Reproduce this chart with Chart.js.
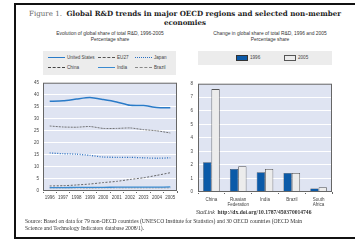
<!DOCTYPE html>
<html>
<head>
<meta charset="utf-8">
<script src="https://cdn.jsdelivr.net/npm/chart.js@4"></script>
<style>
    body { margin: 0; background: #fff; width: 355px; height: 240px; overflow: hidden; position: relative; font-family: "Liberation Sans", Arial, sans-serif; }
    .frame { position: absolute; left: 14px; top: 3px; width: 350px; height: 232px; border-left: 2px solid #111; border-top: 2px solid #111; border-bottom: 2px solid #111; }
    .serif { font-family: "Liberation Serif", "DejaVu Serif", serif; }
    .title { position: absolute; left: 15px; width: 340px; text-align: center; font-family: "DejaVu Serif", serif; font-size: 7.1px; line-height: 8.5px; top: 10px; color: #222; }
    .title .fig { color: #666; font-weight: normal; }
    .sub { position: absolute; text-align: center; font-size: 4.9px; line-height: 6px; color: #333; }
    .legend { position: absolute; background: #ececec; font-size: 4.6px; color: #444; }
    .item { position: absolute; white-space: nowrap; }
    .sample { display: inline-block; width: 17px; height: 0; vertical-align: middle; margin-right: 2px; }
    .swatch { display: inline-block; width: 10px; height: 3.5px; vertical-align: middle; margin-right: 2px; }
    canvas { position: absolute; }
    .note { position: absolute; font-size: 5.6px; color: #333; white-space: nowrap; }
</style>
</head>
<body>
<div class="frame"></div>
<div class="title"><span class="fig">Figure 1.</span>&nbsp;&nbsp;<b>Global R&amp;D trends in major OECD regions and selected non-member<br>economies</b></div>

<div class="sub" style="left:25px;width:170px;top:31px;">Evolution of global share of total R&amp;D, 1996-2005<br>Percentage share</div>
<div class="sub" style="left:185px;width:170px;top:31px;">Change in global share of total R&amp;D, 1996 and 2005<br>Percentage share</div>

<div class="legend" style="left:43px;top:51px;width:133px;height:24px;">
    <div class="item" style="left:5px;top:4px;"><span class="sample" style="border-top:1.5px solid #2a7bc8"></span>United States</div>
    <div class="item" style="left:55px;top:4px;"><span class="sample" style="border-top:1px dashed #555"></span>EU27</div>
    <div class="item" style="left:92px;top:4px;"><span class="sample" style="border-top:1.5px dotted #2a6fc0"></span>Japan</div>
    <div class="item" style="left:5px;top:14px;"><span class="sample" style="border-top:1px dashed #444"></span>China</div>
    <div class="item" style="left:55px;top:14px;"><span class="sample" style="border-top:1.5px solid #3a8ad0"></span>India</div>
    <div class="item" style="left:92px;top:14px;"><span class="sample" style="border-top:1px dashed #888"></span>Brazil</div>
</div>
<div class="legend" style="left:198px;top:51px;width:134px;height:14px;">
    <div class="item" style="left:38px;top:4px;"><span class="swatch" style="background:#0b5aa8;border:0.5px solid #333"></span>1996</div>
    <div class="item" style="left:86px;top:4px;"><span class="swatch" style="background:#ececec;border:0.5px solid #555"></span>2005</div>
</div>

<canvas id="lineChart" style="left:22px;top:76px;width:160px;height:126px;"></canvas>
<canvas id="barChart" style="left:185px;top:76px;width:150px;height:134px;"></canvas>

<div class="note serif" style="left:196px;top:209px;"><i>StatLink</i> &nbsp;<b>http://dx.doi.org/10.1787/450370014746</b></div>
<div class="note serif" style="left:25px;top:218px;line-height:7px;">Source: Based on data for 79 non-OECD countries (UNESCO Institute for Statistics) and 30 OECD countries (OECD Main<br>Science and Technology Indicators database 2008/1).</div>

<script>
// Left panel: share of global R&D, 1996-2005
const years = ['1996', '1997', '1998', '1999', '2000', '2001', '2002', '2003', '2004', '2005'];
const unitedStates = [37.3, 37.5, 38.2, 38.8, 38.0, 37.0, 35.6, 35.5, 34.7, 34.6];
const eu27 = [27.0, 26.6, 26.5, 26.8, 26.0, 26.0, 26.2, 25.5, 25.0, 24.1];
const japan = [15.8, 15.5, 15.3, 14.8, 14.1, 14.0, 14.0, 13.8, 13.6, 13.8];
const china = [2.1, 2.2, 2.5, 2.9, 3.5, 4.0, 4.8, 5.5, 6.5, 7.6];
const india = [1.4, 1.4, 1.5, 1.5, 1.5, 1.6, 1.6, 1.6, 1.6, 1.7];
const brazil = [1.3, 1.3, 1.3, 1.2, 1.3, 1.3, 1.3, 1.3, 1.3, 1.3];

// Right panel: change in share, 1996 vs 2005
const countries = ['China', ['Russian', 'Federation'], 'India', 'Brazil', ['South', 'Africa']];
const share1996 = [2.2, 1.7, 1.45, 1.4, 0.25];
const share2005 = [7.6, 1.9, 1.7, 1.4, 0.35];

const tickFont = { family: 'Liberation Sans', size: 4.5 };

// paints the lavender plot area and its frame
const plotFrame = {
    id: 'plotFrame',
    beforeDraw(chart) {
        const a = chart.chartArea;
        const ctx = chart.ctx;
        ctx.save();
        ctx.fillStyle = '#dfe4f2';
        ctx.fillRect(a.left, a.top, a.right - a.left, a.bottom - a.top);
        ctx.restore();
    },
    afterDraw(chart) {
        const a = chart.chartArea;
        const ctx = chart.ctx;
        ctx.save();
        ctx.strokeStyle = '#666';
        ctx.lineWidth = 1;
        ctx.strokeRect(a.left + 0.5, a.top + 0.5, a.right - a.left - 1, a.bottom - a.top - 1);
        ctx.restore();
    }
};

function lineSet(data, color, width, dash) {
    return {
        data: data,
        borderColor: color,
        borderWidth: width,
        borderDash: dash,
        pointRadius: 0,
        tension: 0.2,
        fill: false
    };
}

new Chart(document.getElementById('lineChart'), {
    type: 'line',
    data: {
        labels: years,
        datasets: [
            lineSet(unitedStates, '#2a7bc8', 1.5, []),
            lineSet(eu27, '#555', 0.8, [2, 1]),
            lineSet(japan, '#2a6fc0', 1.3, [1, 1.5]),
            lineSet(china, '#444', 0.8, [2, 1.5]),
            lineSet(india, '#3a8ad0', 1.3, []),
            lineSet(brazil, '#888', 0.8, [2, 1])
        ]
    },
    options: {
        responsive: false,
        animation: false,
        devicePixelRatio: 1,
        layout: { padding: { top: 5, right: 5, left: 0, bottom: 0 } },
        plugins: { legend: { display: false }, tooltip: { enabled: false } },
        scales: {
            x: {
                offset: true,
                grid: { display: true, drawOnChartArea: false, tickLength: 2, color: '#666', offset: true },
                border: { display: false },
                ticks: { font: tickFont, color: '#444', padding: 2, maxRotation: 0, autoSkip: false },
                afterFit(scale) { scale.height = 11; }
            },
            y: {
                min: 0,
                max: 45,
                ticks: { stepSize: 5, font: tickFont, color: '#444', padding: 4 },
                grid: { color: '#ffffff', lineWidth: 1, drawTicks: false },
                border: { display: false },
                afterFit(scale) { scale.width = 21; }
            }
        }
    },
    plugins: [plotFrame]
});

new Chart(document.getElementById('barChart'), {
    type: 'bar',
    data: {
        labels: countries,
        datasets: [
            { label: '1996', data: share1996, backgroundColor: '#0b5aa8', borderColor: '#333', borderWidth: 0.5 },
            { label: '2005', data: share2005, backgroundColor: '#ececec', borderColor: '#555', borderWidth: 0.8 }
        ]
    },
    options: {
        responsive: false,
        animation: false,
        devicePixelRatio: 1,
        layout: { padding: { top: 5, right: 3, left: 0, bottom: 0 } },
        plugins: { legend: { display: false }, tooltip: { enabled: false } },
        datasets: { bar: { categoryPercentage: 0.62, barPercentage: 1 } },
        scales: {
            x: {
                grid: { display: true, drawOnChartArea: false, tickLength: 2, color: '#666' },
                border: { display: false },
                ticks: { font: tickFont, color: '#444', padding: 3, maxRotation: 0, autoSkip: false },
                afterFit(scale) { scale.height = 18; }
            },
            y: {
                min: 0,
                max: 8,
                ticks: { stepSize: 1, font: tickFont, color: '#444', padding: 5 },
                grid: { color: '#ffffff', lineWidth: 1, drawTicks: false },
                border: { display: false },
                afterFit(scale) { scale.width = 13; }
            }
        }
    },
    plugins: [plotFrame]
});
</script>
</body>
</html>
